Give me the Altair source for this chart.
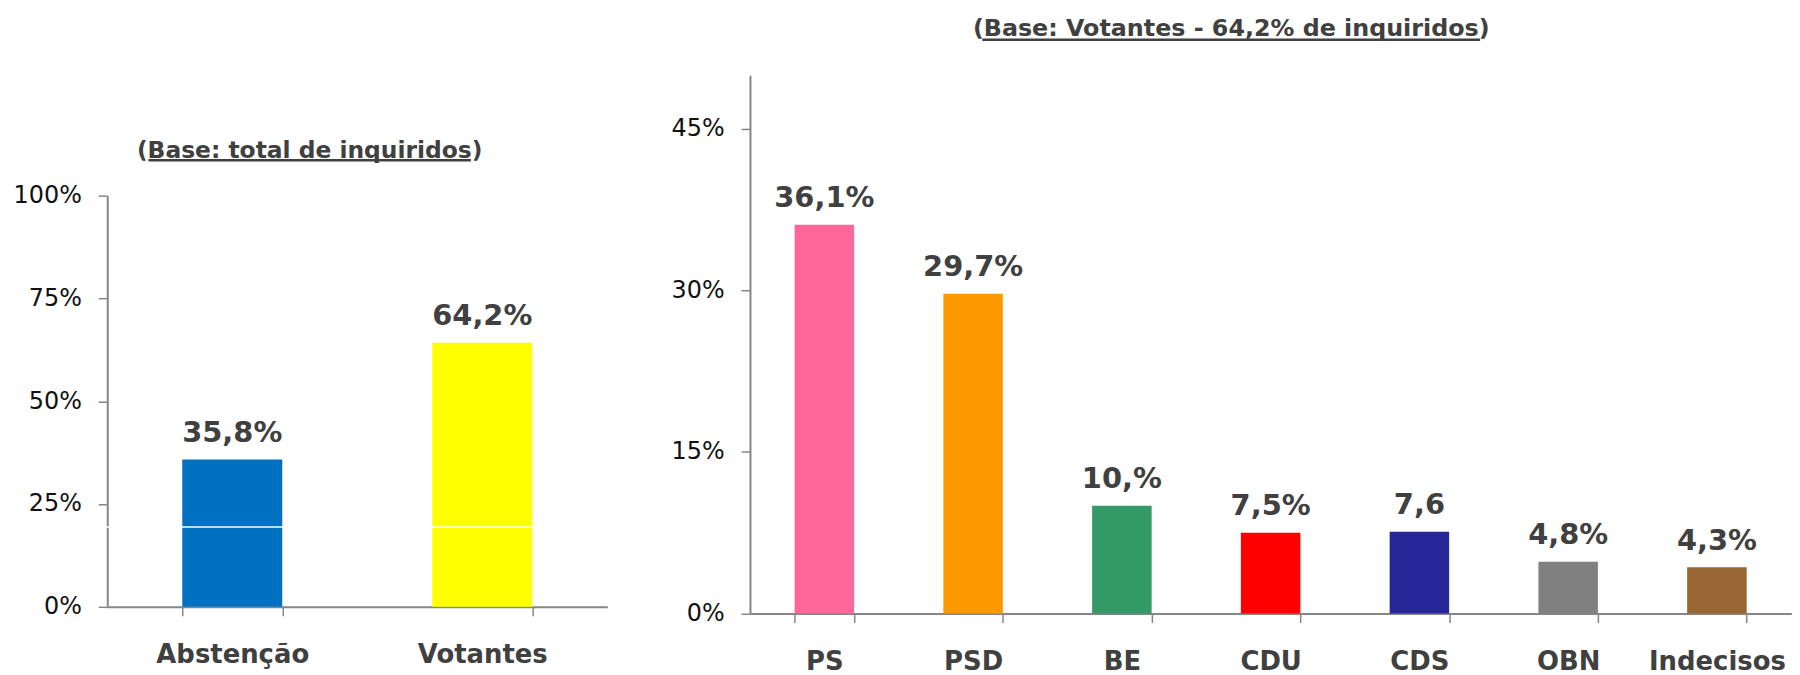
import altair as alt
import pandas as pd

# ---------------- data ----------------
left_categories = ["Abstenção", "Votantes"]
left_values = [35.8, 64.2]
left_labels = ["35,8%", "64,2%"]
left_colors = ["#0070C0", "#FFFF00"]
left_ticks = [0, 25, 50, 75, 100]
left_title = "(Base: total de inquiridos)"
left_artifact_level = [19.4]

right_categories = ["PS", "PSD", "BE", "CDU", "CDS", "OBN", "Indecisos"]
right_values = [36.1, 29.7, 10.0, 7.5, 7.6, 4.8, 4.3]
right_labels = ["36,1%", "29,7%", "10,%", "7,5%", "7,6", "4,8%", "4,3%"]
right_colors = ["#FF6699", "#FF9900", "#339966", "#FF0000", "#262699", "#808080", "#996633"]
right_ticks = [0, 15, 30, 45]
right_title = "(Base: Votantes - 64,2% de inquiridos)"

# ---------------- layout / style ----------------
W, H = 1792, 667
FONT = "DejaVu Sans"
GRAY = "#868686"
DARK = "#404040"

L_X = [99.7, 602.0]
L_Y = [600.0, 187.0]
R_X = [745.3, 1791.3]
R_Y = [606.7, 66.0]


def x_axis(offset):
    return alt.Axis(title=None, orient="bottom", offset=offset, labelAngle=0,
                    labelFont=FONT, labelFontSize=26, labelFontWeight="bold",
                    labelColor=DARK, labelPadding=26, tickBand="extent",
                    tickSize=9, tickWidth=1.5, tickColor=GRAY,
                    domainColor=GRAY, domainWidth=2, grid=False)


def y_axis(offset, values):
    return alt.Axis(title=None, orient="left", offset=offset, values=values,
                    labelExpr="datum.value + '%'", labelFont=FONT,
                    labelFontSize=24, labelColor="#111111", labelPadding=17,
                    tickSize=9, tickWidth=1.5, tickColor=GRAY,
                    domainColor=GRAY, domainWidth=2, grid=False)


def panel(cats, vals, labs, cols, ticks, ymax, xr, yr, title, title_pos, title_size, ul, extra=None):
    df = pd.DataFrame({"cat": cats, "val": vals, "lab": labs, "col": cols})
    xenc = alt.X("cat:N", sort=cats,
                 scale=alt.Scale(range=xr, paddingInner=0.6, paddingOuter=0.3),
                 axis=x_axis(-(H - yr[0])))
    yenc = alt.Y("val:Q", scale=alt.Scale(domain=[0, ymax], range=yr, nice=False, zero=True),
                 axis=y_axis(-xr[0], ticks))
    bars = alt.Chart(df).mark_bar().encode(x=xenc, y=yenc, color=alt.Color("col:N", scale=None))
    text = alt.Chart(df).mark_text(dy=-17.5, baseline="alphabetic", font=FONT, fontSize=29,
                                   fontWeight="bold", color=DARK).encode(
        x=alt.X("cat:N", sort=cats), y=alt.Y("val:Q"), text="lab:N")
    tdf = pd.DataFrame({"t": [title]})
    ttl = alt.Chart(tdf).mark_text(font=FONT, fontSize=title_size, fontWeight="bold", color=DARK,
                                   align="center", baseline="alphabetic").encode(
        x=alt.value(title_pos[0]), y=alt.value(title_pos[1]), text="t:N")
    und = alt.Chart(tdf).mark_rule(color=DARK, strokeWidth=2.5).encode(
        x=alt.value(ul[0]), x2=alt.value(ul[1]), y=alt.value(ul[2]))
    layers = [bars]
    if extra is not None:
        layers.append(extra)
    layers += [text, ttl, und]
    return alt.layer(*layers)


artifact = alt.Chart(pd.DataFrame({"lvl": left_artifact_level})).mark_rule(
    color="white", strokeWidth=1.5).encode(
    y=alt.Y("lvl:Q"), x=alt.value(96), x2=alt.value(L_X[1]))

left = panel(left_categories, left_values, left_labels, left_colors, left_ticks, 100,
             L_X, L_Y, left_title, (303, 149), 23.5, (141, 465, 151.5), extra=artifact)
right = panel(right_categories, right_values, right_labels, right_colors, right_ticks, 50,
              R_X, R_Y, right_title, (1228.7, 26.5), 23.9, (978.7, 1478.7, 30.5))

chart = alt.layer(left, right).resolve_scale(x="independent", y="independent").properties(
    width=W, height=H, autosize=alt.AutoSizeParams(type="none"), padding=0
).configure_view(stroke=None)

chart.save("out.html", embed_options={"renderer": "svg", "actions": False})
